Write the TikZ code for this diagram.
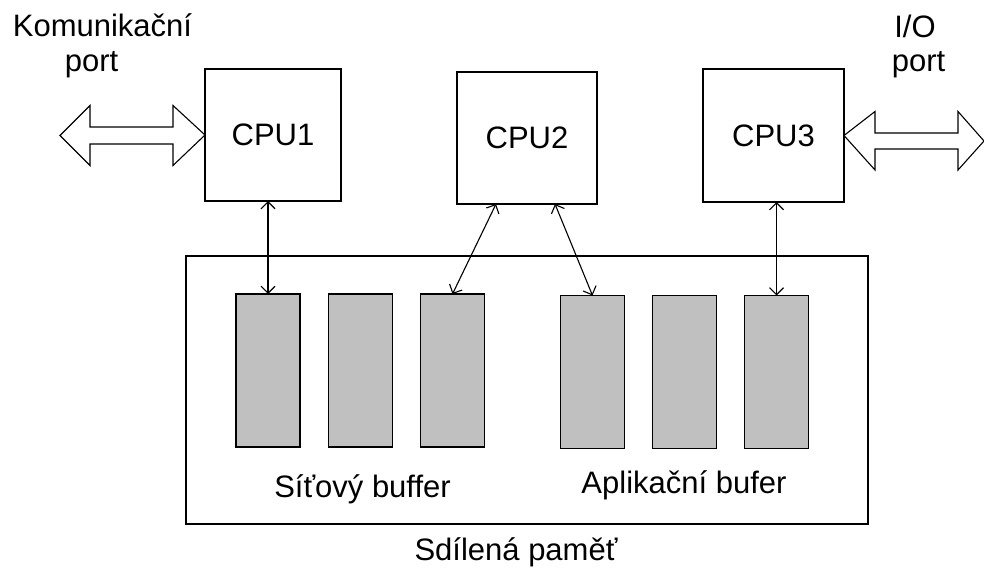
\documentclass[tikz,border=0pt]{standalone}
\usepackage{fontspec}
\setmainfont{Liberation Sans}
\usetikzlibrary{arrows.meta}
\definecolor{bufgray}{HTML}{C0C0C0}
\begin{document}
\begin{tikzpicture}[x=1pt,y=-1pt,
  every node/.style={font=\fontsize{31}{37}\selectfont, inner sep=0pt, outer sep=0pt},
  cpubox/.style={draw, line width=1.5pt, fill=white},
  membox/.style={draw, line width=1.5pt},
  bufbox/.style={draw, line width=1.5pt, fill=bufgray, minimum width=64pt, minimum height=153pt},
  lbl/.style={anchor=base},
  link/.style={line width=1.1pt, {Straight Barb[length=7pt,width=14pt]}-{Straight Barb[length=7pt,width=14pt]}},
  blockarrow/.style={draw, line width=1.1pt, fill=white, line join=miter}
]
\useasboundingbox (0,0) rectangle (984,569);

% memory
\node[membox, minimum width=682pt, minimum height=268pt] (mem) at (527,390) {};

% CPUs
\node[cpubox, minimum width=136pt, minimum height=132pt] (cpu1) at (273,135) {CPU1};
\node[cpubox, minimum width=140pt, minimum height=132pt] (cpu2) at (527,138) {CPU2};
\node[cpubox, minimum width=141pt, minimum height=133pt] (cpu3) at (773.5,135.5) {CPU3};

% buffers
\node[bufbox] (b1) at (268,370.5) {};
\node[bufbox] (b2) at (360.5,370.5) {};
\node[bufbox] (b3) at (452.5,370.5) {};
\node[bufbox] (b4) at (592.5,372) {};
\node[bufbox] (b5) at (684.5,372) {};
\node[bufbox] (b6) at (776.5,372) {};

% links
\draw[link] (b1.north |- cpu1.south) -- (b1.north);
\draw[link] ([xshift=-31pt]cpu2.south) -- (b3.north);
\draw[link] ([xshift=28pt]cpu2.south) -- (b4.north);
\draw[link] (b6.north |- cpu3.south) -- (b6.north);

% block arrows (ports)
\coordinate (lt) at (60,135.5);
\draw[blockarrow] (lt) -- (90,105.5) -- (90,127) -- (173,127) -- (173,105.5) -- (cpu1.west) -- (173,165.5) -- (173,144) -- (90,144) -- (90,165.5) -- cycle;
\coordinate (rt) at (984,141);
\draw[blockarrow] (cpu3.east) -- (875,111.5) -- (875,133) -- (958,133) -- (958,111.5) -- (rt) -- (958,170) -- (958,149) -- (875,149) -- (875,170) -- cycle;

% labels
\node[lbl] (kom) at (102.5,37) {Komunikační};
\node[lbl] (kport) at (91.5,72) {port};
\node[lbl] (io) at (915,38) {I/O};
\node[lbl] (ioport) at (918.5,72) {port};
\node[lbl] (sit) at (362.5,497) {Síťový buffer};
\node[lbl] (apl) at (684,493) {Aplikační bufer};
\node[lbl] (sdil) at (516,560) {Sdílená paměť};
\end{tikzpicture}
\end{document}
